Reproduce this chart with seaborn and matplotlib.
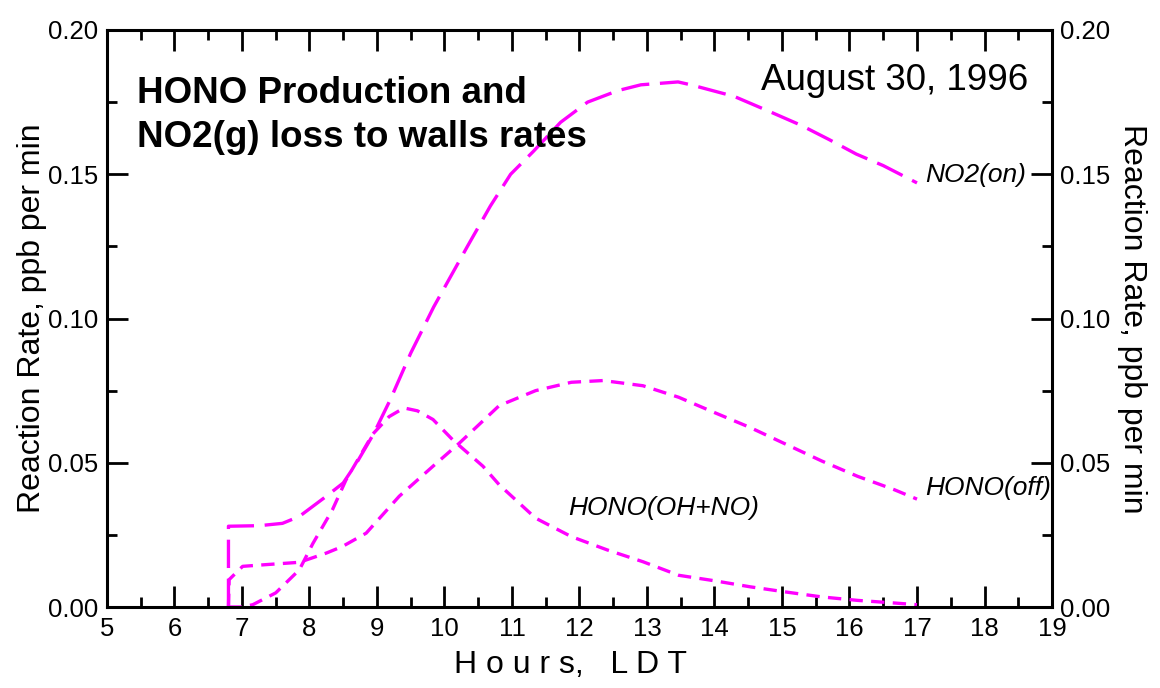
import pandas as pd
import matplotlib
matplotlib.use("Agg")
import matplotlib.pyplot as plt
import seaborn as sns
from matplotlib.ticker import MultipleLocator, FormatStrFormatter

# NO2(g) loss to walls, lights on
no2_hours = [6.8, 6.8, 7.26, 7.6, 7.85, 8.25, 8.5, 8.7, 8.95, 9.2, 9.5, 9.84, 10.34, 10.68,
             10.98, 11.32, 11.72, 12.12, 12.57, 12.91, 13.46, 13.65, 14.29, 14.79, 15.28,
             15.7, 16.1, 16.5, 17.0]
no2_rate = [0.0, 0.028, 0.0282, 0.029, 0.0314, 0.0384, 0.043, 0.050, 0.060, 0.072, 0.088,
            0.104, 0.125, 0.139, 0.150, 0.158, 0.168, 0.175, 0.179, 0.181, 0.182, 0.181,
            0.177, 0.172, 0.167, 0.162, 0.157, 0.153, 0.147]

# HONO production, lights off
off_hours = [6.8, 6.81, 7.01, 7.36, 7.85, 8.25, 8.49, 8.84, 9.33, 9.83, 10.22, 10.81, 11.35,
             11.88, 12.35, 12.94, 13.47, 14.0, 14.53, 15.06, 15.59, 16.12, 16.66, 17.0]
off_rate = [0.0, 0.0095, 0.0141, 0.0147, 0.0155, 0.0187, 0.021, 0.0256, 0.0384, 0.0488,
            0.0568, 0.0698, 0.075, 0.0779, 0.0785, 0.0767, 0.0727, 0.0674, 0.0622, 0.0564,
            0.0506, 0.0453, 0.0407, 0.0374]

# HONO from OH + NO
ohno_hours = [6.8, 7.0, 7.16, 7.5, 7.85, 8.05, 8.34, 8.54, 8.69, 8.94, 9.18, 9.4, 9.6, 9.83,
              10.12, 10.57, 10.81, 11.35, 11.88, 12.41, 12.94, 13.47, 14.0, 14.53, 15.06,
              15.59, 16.12, 16.66, 17.0]
ohno_rate = [0.0, 0.0, 0.0008, 0.0049, 0.0129, 0.022, 0.0337, 0.044, 0.050, 0.060, 0.066,
             0.069, 0.068, 0.065, 0.058, 0.0488, 0.0424, 0.0308, 0.0244, 0.0198, 0.0157,
             0.011, 0.0091, 0.0070, 0.0052, 0.0035, 0.0023, 0.0014, 0.0008]

sns.set_theme(style="ticks")
plt.rcParams["font.family"] = ["Liberation Sans", "DejaVu Sans"]
plt.rcParams["text.color"] = "black"
plt.rcParams["axes.labelcolor"] = "black"
plt.rcParams["xtick.color"] = "black"
plt.rcParams["ytick.color"] = "black"

fig = plt.figure(figsize=(11.6, 6.88), dpi=100)
ax = fig.add_axes([0.0922, 0.1177, 0.8147, 0.8387])

magenta = "#ff00ff"
sns.lineplot(x=no2_hours, y=no2_rate, ax=ax, sort=False, estimator=None,
             color=magenta, lw=2.4)
sns.lineplot(x=off_hours, y=off_rate, ax=ax, sort=False, estimator=None,
             color=magenta, lw=2.4)
sns.lineplot(x=ohno_hours, y=ohno_rate, ax=ax, sort=False, estimator=None,
             color=magenta, lw=2.4)
ax.lines[0].set_dashes([8.5, 3.2])
ax.lines[1].set_dashes([4, 2.5])
ax.lines[2].set_dashes([4, 2.5])

ax.set_xlim(5, 19)
ax.set_ylim(0, 0.20)
ax.xaxis.set_major_locator(MultipleLocator(1))
ax.xaxis.set_minor_locator(MultipleLocator(0.5))
ax.yaxis.set_major_locator(MultipleLocator(0.05))
ax.yaxis.set_minor_locator(MultipleLocator(0.025))
ax.yaxis.set_major_formatter(FormatStrFormatter("%.2f"))
ax.tick_params(which="both", direction="in", top=True, right=True,
               labelright=True, width=2, labelsize=18.5)
ax.tick_params(axis="x", pad=7)
ax.tick_params(axis="y", pad=6)
ax.tick_params(which="major", length=15)
ax.tick_params(which="minor", length=7.5)
for s in ax.spines.values():
    s.set_linewidth(2.2)
    s.set_color("black")

ax.set_xlabel("H o u r s,   L D T", fontsize=23, labelpad=11)
ax.xaxis.set_label_coords(0.49, -0.1)
ax.xaxis.label.set_va("center")
ax.set_ylabel("Reaction Rate, ppb per min", fontsize=23)
ax.yaxis.set_label_coords(-0.0635, 0.5)
ax.text(1.0685, 0.5, "Reaction Rate, ppb per min", transform=ax.transAxes, fontsize=23,
        rotation=-90, ha="left", va="center")

ax.text(0.032, 0.921, "HONO Production and\nNO2(g) loss to walls rates", transform=ax.transAxes,
        fontsize=26.5, fontweight="bold", va="top", ha="left", linespacing=1.35)
ax.text(0.975, 0.913, "August 30, 1996", transform=ax.transAxes, fontsize=26.5,
        va="center", ha="right")

ax.text(17.12, 0.1497, "NO2(on)", fontsize=19, style="italic", va="center", ha="left")
ax.text(17.12, 0.0412, "HONO(off)", fontsize=19, style="italic", va="center", ha="left")
ax.text(11.83, 0.0343, "HONO(OH+NO)", fontsize=19, style="italic", va="center", ha="left")

fig.savefig("out.png", dpi=100)
